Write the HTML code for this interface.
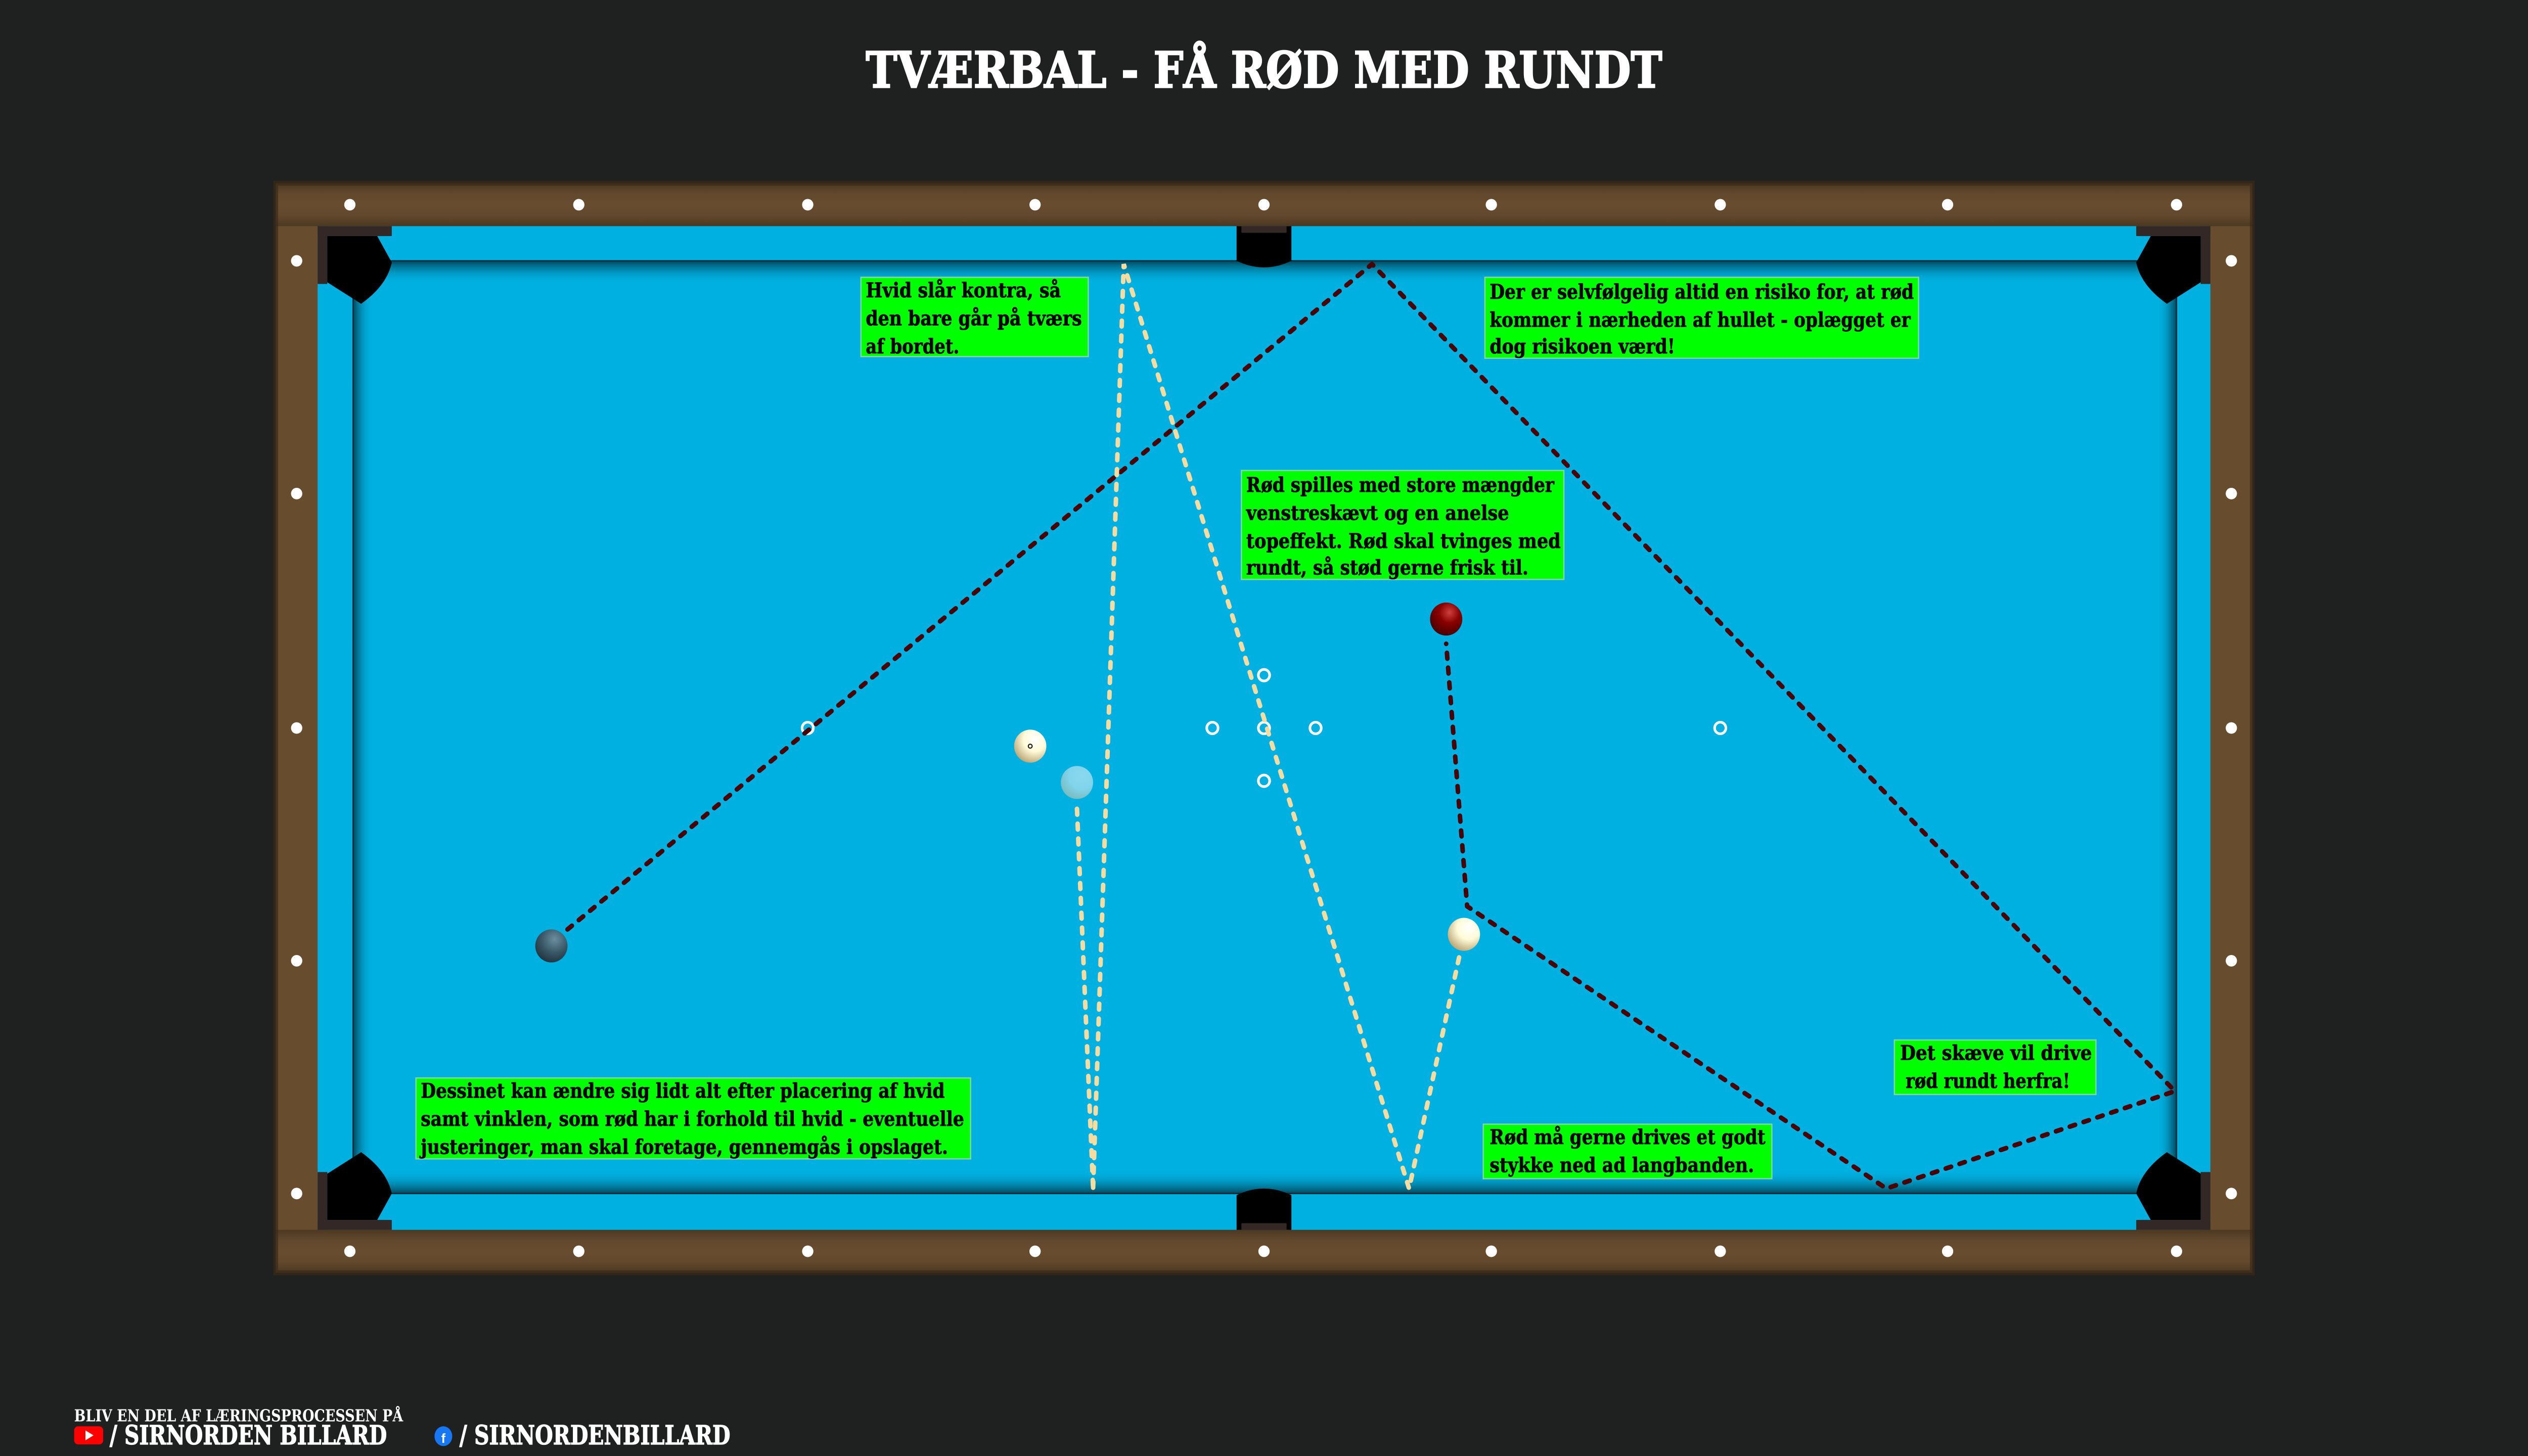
<!DOCTYPE html>
<html><head><meta charset="utf-8"><style>
html,body{margin:0;padding:0;background:#1e2120;overflow:hidden;width:100%;height:100%;}
svg{position:fixed;left:0;top:0;width:100vw;height:100vh;display:block}
</style></head><body>
<svg xmlns="http://www.w3.org/2000/svg" viewBox="0 0 1568 882" preserveAspectRatio="none">
<defs>
<linearGradient id="railH" x1="0" y1="0" x2="0" y2="1">
<stop offset="0" stop-color="#3a2a19"/><stop offset="0.25" stop-color="#5f472c"/><stop offset="0.5" stop-color="#684c2e"/><stop offset="0.75" stop-color="#5f472c"/><stop offset="1" stop-color="#3a2a19"/></linearGradient>
<linearGradient id="shT" x1="0" y1="0" x2="0" y2="1"><stop offset="0" stop-color="#003a4c" stop-opacity="0.9"/><stop offset="1" stop-color="#00b0e0" stop-opacity="0"/></linearGradient>
<linearGradient id="shB" x1="0" y1="1" x2="0" y2="0"><stop offset="0" stop-color="#003a4c" stop-opacity="0.9"/><stop offset="1" stop-color="#00b0e0" stop-opacity="0"/></linearGradient>
<linearGradient id="shL" x1="0" y1="0" x2="1" y2="0"><stop offset="0" stop-color="#003a4c" stop-opacity="0.9"/><stop offset="1" stop-color="#00b0e0" stop-opacity="0"/></linearGradient>
<linearGradient id="shR" x1="1" y1="0" x2="0" y2="0"><stop offset="0" stop-color="#003a4c" stop-opacity="0.9"/><stop offset="1" stop-color="#00b0e0" stop-opacity="0"/></linearGradient>
<radialGradient id="wb" cx="0.65" cy="0.3" r="0.8"><stop offset="0" stop-color="#ffffff"/><stop offset="0.45" stop-color="#fffbd8"/><stop offset="1" stop-color="#b09a6a"/></radialGradient>
<radialGradient id="rb" cx="0.6" cy="0.3" r="0.8"><stop offset="0" stop-color="#d04040"/><stop offset="0.4" stop-color="#8a0000"/><stop offset="1" stop-color="#3a0000"/></radialGradient>
<radialGradient id="bb" cx="0.6" cy="0.3" r="0.8"><stop offset="0" stop-color="#6b8fa0"/><stop offset="0.5" stop-color="#3a5868"/><stop offset="1" stop-color="#1c2c36"/></radialGradient>
<radialGradient id="gb" cx="0.65" cy="0.3" r="0.8"><stop offset="0" stop-color="#8ad8f0"/><stop offset="0.5" stop-color="#80d4ec"/><stop offset="1" stop-color="#78b8b8"/></radialGradient>
</defs>
<rect width="1568" height="882" fill="#1e2120"/>
<text x="784" y="53" text-anchor="middle" font-family="DejaVu Serif, Liberation Serif, serif" font-weight="bold" font-size="30" fill="#fff" textLength="494" lengthAdjust="spacingAndGlyphs" stroke="#fff" stroke-width="0.8">TVÆRBAL - FÅ RØD MED RUNDT</text>
<!-- frame -->
<rect x="171" y="111" width="1226" height="660" fill="#684c2e"/>
<rect x="171" y="111" width="1226" height="26" fill="url(#railH)" opacity="0.6"/>
<rect x="171" y="745" width="1226" height="26" fill="url(#railH)" opacity="0.6"/>
<rect x="171" y="111" width="1226" height="660" fill="none" stroke="#3a2a19" stroke-width="3" opacity="0.7"/>
<!-- cloth -->
<rect x="197" y="137" width="1174" height="608" fill="#00b0e0"/>
<rect x="219" y="158" width="1131" height="565" fill="#00b0e0"/>
<rect x="219" y="158" width="1131" height="14" fill="url(#shT)"/>
<rect x="219" y="709" width="1131" height="14" fill="url(#shB)"/>
<rect x="219" y="158" width="12" height="565" fill="url(#shL)"/>
<rect x="1338" y="158" width="12" height="565" fill="url(#shR)"/>
<rect x="219" y="158" width="1131" height="565" fill="none" stroke="#0a2a36" stroke-width="0.8"/>
<!-- corner pockets -->
<g id="cp"><rect x="197" y="137" width="46" height="6" fill="#332826"/><rect x="197" y="137" width="6" height="35" fill="#332826"/>
<path d="M203,143 L234,143 L243,159 Q240,173 224,184 L203,171 Z" fill="#000"/></g>
<use href="#cp" transform="translate(1568,0) scale(-1,1)"/>
<use href="#cp" transform="translate(0,882) scale(1,-1)"/>
<use href="#cp" transform="translate(1568,882) scale(-1,-1)"/>
<!-- middle pockets -->
<path d="M767,137 L801,137 L801,158 Q784,166 767,158 Z" fill="#000"/><rect x="770" y="137" width="28" height="4" fill="#332826"/>
<path d="M767,745 L801,745 L801,724 Q784,716 767,724 Z" fill="#000"/><rect x="770" y="741" width="28" height="4" fill="#332826"/>
<!-- diamonds -->
<g fill="#fff">
<ellipse cx="217" cy="124" rx="3.5" ry="3.5"/><ellipse cx="359" cy="124" rx="3.5" ry="3.5"/><ellipse cx="501" cy="124" rx="3.5" ry="3.5"/><ellipse cx="642" cy="124" rx="3.5" ry="3.5"/><ellipse cx="784" cy="124" rx="3.5" ry="3.5"/><ellipse cx="925" cy="124" rx="3.5" ry="3.5"/><ellipse cx="1067" cy="124" rx="3.5" ry="3.5"/><ellipse cx="1208" cy="124" rx="3.5" ry="3.5"/><ellipse cx="1350" cy="124" rx="3.5" ry="3.5"/>
<ellipse cx="217" cy="758" rx="3.5" ry="3.5"/><ellipse cx="359" cy="758" rx="3.5" ry="3.5"/><ellipse cx="501" cy="758" rx="3.5" ry="3.5"/><ellipse cx="642" cy="758" rx="3.5" ry="3.5"/><ellipse cx="784" cy="758" rx="3.5" ry="3.5"/><ellipse cx="925" cy="758" rx="3.5" ry="3.5"/><ellipse cx="1067" cy="758" rx="3.5" ry="3.5"/><ellipse cx="1208" cy="758" rx="3.5" ry="3.5"/><ellipse cx="1350" cy="758" rx="3.5" ry="3.5"/>
<ellipse cx="184" cy="158" rx="3.5" ry="3.5"/><ellipse cx="184" cy="299" rx="3.5" ry="3.5"/><ellipse cx="184" cy="441" rx="3.5" ry="3.5"/><ellipse cx="184" cy="582" rx="3.5" ry="3.5"/><ellipse cx="184" cy="723" rx="3.5" ry="3.5"/>
<ellipse cx="1384" cy="158" rx="3.5" ry="3.5"/><ellipse cx="1384" cy="299" rx="3.5" ry="3.5"/><ellipse cx="1384" cy="441" rx="3.5" ry="3.5"/><ellipse cx="1384" cy="582" rx="3.5" ry="3.5"/><ellipse cx="1384" cy="723" rx="3.5" ry="3.5"/>
</g>
<!-- spots -->
<g fill="none" stroke="#fff" stroke-width="1.6">
<circle cx="501" cy="441" r="3.5"/><circle cx="752" cy="441" r="3.5"/><circle cx="784" cy="441" r="3.5"/><circle cx="816" cy="441" r="3.5"/><circle cx="784" cy="409" r="3.5"/><circle cx="784" cy="473" r="3.5"/><circle cx="1067" cy="441" r="3.5"/>
</g>
<!-- lines -->
<g fill="none" stroke-linecap="round" stroke-width="2.8" stroke-dasharray="3.5 5.5">
<polyline points="352,563 851,160 1349,661 1170,720 910,549 897,390" stroke="#4a0000" stroke-linejoin="round"/>
<polyline points="905,580 874,720 697,160 678,720" stroke="#f7dca2"/>
<polyline points="668,490 678,720" stroke="#f7dca2"/>
</g>
<!-- balls -->
<circle cx="639" cy="452" r="10" fill="url(#wb)"/><circle cx="639" cy="452" r="1.2" fill="none" stroke="#222" stroke-width="0.7"/>
<circle cx="668" cy="474" r="10" fill="url(#gb)"/>
<circle cx="897" cy="375" r="10" fill="url(#rb)"/>
<circle cx="908" cy="566" r="10" fill="url(#wb)"/>
<circle cx="342" cy="573" r="10" fill="url(#bb)"/>
<!-- text boxes -->
<g font-family="DejaVu Serif, Liberation Serif, serif" font-weight="bold" font-size="12.3" fill="#000" stroke="#000" stroke-width="0.25">
<rect x="534" y="168" width="141" height="48" fill="#00ff00" stroke="#7fd9a0" stroke-width="0.8"/>
<text x="537" y="180" textLength="121" lengthAdjust="spacingAndGlyphs">Hvid slår kontra, så</text>
<text x="537" y="197" textLength="134" lengthAdjust="spacingAndGlyphs">den bare går på tværs</text>
<text x="537" y="214" textLength="58" lengthAdjust="spacingAndGlyphs">af bordet.</text>
<rect x="921" y="168" width="269" height="49" fill="#00ff00" stroke="#7fd9a0" stroke-width="0.8"/>
<text x="924" y="181" textLength="263" lengthAdjust="spacingAndGlyphs">Der er selvfølgelig altid en risiko for, at rød</text>
<text x="924" y="198" textLength="261" lengthAdjust="spacingAndGlyphs">kommer i nærheden af hullet - oplægget er</text>
<text x="924" y="214" textLength="115" lengthAdjust="spacingAndGlyphs">dog risikoen værd!</text>
<rect x="770" y="285" width="200" height="66" fill="#00ff00" stroke="#7fd9a0" stroke-width="0.8"/>
<text x="773" y="298" textLength="191" lengthAdjust="spacingAndGlyphs">Rød spilles med store mængder</text>
<text x="773" y="315" textLength="163" lengthAdjust="spacingAndGlyphs">venstreskævt og en anelse</text>
<text x="773" y="332" textLength="195" lengthAdjust="spacingAndGlyphs">topeffekt. Rød skal tvinges med</text>
<text x="773" y="348" textLength="175" lengthAdjust="spacingAndGlyphs">rundt, så stød gerne frisk til.</text>
<rect x="258" y="653" width="344" height="49" fill="#00ff00" stroke="#7fd9a0" stroke-width="0.8"/>
<text x="261" y="665" textLength="325" lengthAdjust="spacingAndGlyphs">Dessinet kan ændre sig lidt alt efter placering af hvid</text>
<text x="261" y="682" textLength="337" lengthAdjust="spacingAndGlyphs">samt vinklen, som rød har i forhold til hvid - eventuelle</text>
<text x="261" y="699" textLength="327" lengthAdjust="spacingAndGlyphs">justeringer, man skal foretage, gennemgås i opslaget.</text>
<rect x="1175" y="630" width="125" height="33" fill="#00ff00" stroke="#7fd9a0" stroke-width="0.8"/>
<text x="1238" y="642" text-anchor="middle" textLength="119" lengthAdjust="spacingAndGlyphs">Det skæve vil drive</text>
<text x="1233" y="659" text-anchor="middle" textLength="102" lengthAdjust="spacingAndGlyphs">rød rundt herfra!</text>
<rect x="920" y="681" width="179" height="33" fill="#00ff00" stroke="#7fd9a0" stroke-width="0.8"/>
<text x="924" y="693" textLength="171" lengthAdjust="spacingAndGlyphs">Rød må gerne drives et godt</text>
<text x="924" y="710" textLength="164" lengthAdjust="spacingAndGlyphs">stykke ned ad langbanden.</text>
</g>
<!-- footer -->
<g font-family="DejaVu Serif, Liberation Serif, serif" font-weight="bold" fill="#fff">
<text x="46" y="861" font-size="10" textLength="204" lengthAdjust="spacingAndGlyphs">BLIV EN DEL AF LÆRINGSPROCESSEN PÅ</text>
<rect x="46" y="864" width="18" height="11" rx="2.5" fill="#ff0000"/>
<path d="M53,866.5 L58,869.5 L53,872.5 Z" fill="#fff"/>
<text x="68" y="875" font-size="16" textLength="172" lengthAdjust="spacingAndGlyphs" stroke="#fff" stroke-width="0.4">/ SIRNORDEN BILLARD</text>
<ellipse cx="275" cy="870" rx="5.5" ry="6" fill="#1877f2"/>
<text x="275" y="874" font-size="8" text-anchor="middle" font-family="Liberation Sans, sans-serif">f</text>
<text x="285" y="875" font-size="16" textLength="168" lengthAdjust="spacingAndGlyphs" stroke="#fff" stroke-width="0.4">/ SIRNORDENBILLARD</text>
</g>
</svg>
</body></html>
